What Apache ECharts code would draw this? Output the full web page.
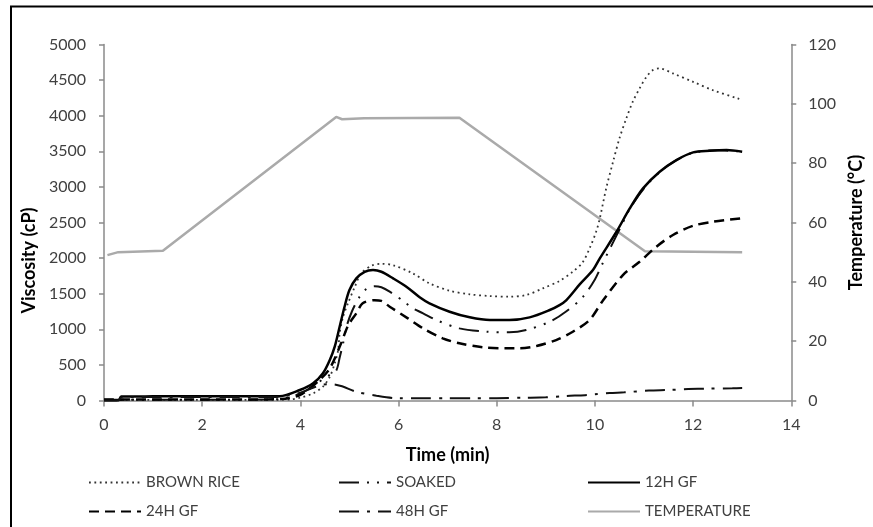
<!DOCTYPE html>
<html>
<head>
<meta charset="utf-8">
<script src="https://cdn.jsdelivr.net/npm/echarts@6/dist/echarts.min.js"></script>
<style>html,body{margin:0;padding:0;background:#fff}#c{width:873px;height:527px}</style>
</head>
<body>
<div id="c"></div>
<script>
// Time (min) vs viscosity (cP)
var brownRice = [[0,5],[0.5,8],[1,8],[2,8],[3,8],[3.5,10],[3.8,15],[4.0,40],[4.26,100],[4.46,195],[4.60,334],[4.70,522],[4.77,709],[4.80,943],[4.87,1176],[4.97,1365],[5.11,1598],[5.24,1786],[5.45,1893],[5.65,1920],[5.89,1900],[6.29,1786],[6.63,1645],[7.04,1542],[7.45,1491],[7.86,1467],[8.26,1458],[8.60,1481],[8.94,1575],[9.28,1680],[9.55,1809],[9.75,1940],[9.90,2150],[10.03,2380],[10.10,2558],[10.23,2979],[10.37,3353],[10.50,3681],[10.64,3962],[10.77,4195],[10.91,4383],[11.05,4546],[11.18,4640],[11.32,4664],[11.59,4594],[12.0,4476],[12.40,4359],[12.91,4243],[13,4225]];
var soaked = [[0,10],[1,12],[2,12],[3,12],[3.6,20],[4.0,100],[4.26,200],[4.46,300],[4.60,360],[4.73,420],[4.80,600],[4.87,803],[4.94,1036],[5.05,1250],[5.2,1450],[5.35,1570],[5.51,1605],[5.65,1590],[5.82,1528],[6.16,1365],[6.23,1317],[6.50,1224],[6.77,1130],[7.24,1013],[7.79,966],[8.26,957],[8.60,990],[9.08,1106],[9.42,1254],[9.76,1458],[10.0,1700],[10.16,1930],[10.5,2400],[10.71,2690],[11.0,2980],[11.32,3210],[11.66,3375],[12.0,3480],[12.5,3515],[13,3495]];
var gf12h = [[0,0],[0.3,5],[0.35,55],[1,58],[2,60],[3,58],[3.58,60],[3.99,147],[4.26,241],[4.46,382],[4.60,569],[4.70,756],[4.80,1036],[4.90,1317],[5.00,1551],[5.14,1715],[5.31,1808],[5.48,1832],[5.65,1808],[5.89,1715],[6.16,1598],[6.43,1450],[6.63,1365],[7.04,1247],[7.45,1168],[7.86,1130],[8.26,1130],[8.67,1168],[9.08,1271],[9.28,1340],[9.42,1411],[9.69,1630],[9.96,1832],[10.10,1996],[10.44,2370],[10.71,2698],[10.98,2979],[11.32,3213],[11.66,3377],[12.0,3485],[12.34,3507],[12.68,3517],[13,3495]];
var gf24h = [[0,15],[1,15],[2,15],[3,15],[3.6,20],[4.0,80],[4.39,288],[4.6,450],[4.83,803],[4.97,1050],[5.14,1224],[5.27,1365],[5.51,1408],[5.65,1400],[5.82,1317],[6.19,1154],[6.50,1013],[6.90,873],[7.24,803],[7.72,747],[8.19,733],[8.47,733],[8.81,765],[9.21,849],[9.55,966],[9.89,1130],[10.16,1400],[10.57,1762],[10.91,1949],[11.25,2159],[11.59,2324],[12.0,2454],[12.40,2510],[12.98,2558]];
var gf48h = [[0,0],[0.3,5],[0.35,45],[1,48],[2,50],[3,48],[3.5,50],[4.0,110],[4.3,190],[4.46,225],[4.66,228],[4.85,200],[5.14,123],[5.55,67],[6.0,31],[6.5,30],[7,30],[7.5,32],[8,33],[8.6,39],[9.0,45],[9.4,63],[9.8,75],[10.0,87],[10.3,105],[10.6,115],[11.1,140],[11.5,148],[11.9,160],[12.3,166],[12.8,172],[13,175]];
// Time (min) vs temperature (°C)
var temperature = [[0.07,49],[0.29,50],[1.2,50.5],[4.73,95.6],[4.85,94.8],[5.3,95.1],[7.24,95.3],[11.02,50.3],[13,50]];

var seriesNames = ['BROWN RICE','SOAKED','12H GF','24H GF','48H GF','TEMPERATURE'];
var xAxisTitle = 'Time (min)';
var yAxisTitle = 'Viscosity (cP)';
var y2AxisTitle = 'Temperature (°C)';

var FONT = 'Lato';
var axisLineColor = '#8a8a8a';

function legendAt(name, left, top) {
  return {
    data: [name], left: left, top: top, padding: 0,
    itemWidth: 52, itemHeight: 14,
    itemStyle: {opacity: 0},
    textStyle: {fontFamily: FONT, fontSize: 15, color: '#404040'},
    selectedMode: false
  };
}
function plain(v) { return String(v); }
var titleStyle = {fontFamily: FONT, fontSize: 18, fontWeight: 'bold', color: '#000'};
var tickLabel = {fontFamily: FONT, fontSize: 16, color: '#404040', formatter: plain};

var chart = echarts.init(document.getElementById('c'), null, {renderer: 'canvas'});
chart.setOption({
  animation: false,
  backgroundColor: '#fff',
  textStyle: {fontFamily: FONT},
  grid: {left: 104, top: 44.5, width: 688, height: 356},
  legend: [
    legendAt(seriesNames[0], 88, 475),
    legendAt(seriesNames[1], 338, 475),
    legendAt(seriesNames[2], 587, 475),
    legendAt(seriesNames[3], 88, 504),
    legendAt(seriesNames[4], 338, 504),
    legendAt(seriesNames[5], 587, 504)
  ],
  xAxis: {
    type: 'value', min: 0, max: 14, interval: 2,
    name: xAxisTitle, nameLocation: 'middle', nameGap: 46,
    nameTextStyle: titleStyle,
    axisLine: {lineStyle: {color: axisLineColor, width: 1.5}},
    axisTick: {show: true, length: 6, lineStyle: {color: axisLineColor, width: 1.5}},
    axisLabel: Object.assign({margin: 16}, tickLabel),
    splitLine: {show: false}
  },
  yAxis: [{
    type: 'value', min: 0, max: 5000, interval: 500,
    name: yAxisTitle, nameLocation: 'middle', nameGap: 61, nameRotate: 90,
    nameTextStyle: Object.assign({padding: [0, 76, 0, 0]}, titleStyle),
    axisLine: {show: true, lineStyle: {color: axisLineColor, width: 1.5}},
    axisTick: {show: true, length: 5, lineStyle: {color: axisLineColor, width: 1.5}},
    axisLabel: Object.assign({margin: 18}, tickLabel),
    splitLine: {show: false}
  }, {
    type: 'value', min: 0, max: 120, interval: 20, position: 'right',
    name: y2AxisTitle, nameLocation: 'middle', nameGap: 49, nameRotate: 90,
    nameTextStyle: titleStyle,
    axisLine: {show: true, lineStyle: {color: axisLineColor, width: 1.5}},
    axisTick: {show: true, length: 5, lineStyle: {color: axisLineColor, width: 1.5}},
    axisLabel: Object.assign({margin: 17}, tickLabel),
    splitLine: {show: false}
  }],
  series: [
    {name: seriesNames[5], type: 'line', yAxisIndex: 1, data: temperature, symbol: 'none',
     lineStyle: {color: '#aaaaaa', width: 2.5, type: 'solid'}, itemStyle: {color: '#aaaaaa'}},
    {name: seriesNames[0], type: 'line', data: brownRice, symbol: 'none', smooth: 0.3,
     lineStyle: {color: '#333', width: 1.8, type: [1.8, 3.6]}, itemStyle: {color: '#333'}},
    {name: seriesNames[1], type: 'line', data: soaked, symbol: 'none', smooth: 0.3,
     lineStyle: {color: '#111', width: 2, type: [20, 8, 2, 8, 2, 8]}, itemStyle: {color: '#111'}},
    {name: seriesNames[2], type: 'line', data: gf12h, symbol: 'none', smooth: 0.3,
     lineStyle: {color: '#000', width: 2.5, type: 'solid'}, itemStyle: {color: '#000'}},
    {name: seriesNames[3], type: 'line', data: gf24h, symbol: 'none', smooth: 0.3,
     lineStyle: {color: '#000', width: 2.5, type: [10, 6]}, itemStyle: {color: '#000'}},
    {name: seriesNames[4], type: 'line', data: gf48h, symbol: 'none', smooth: 0.3,
     lineStyle: {color: '#111', width: 2, type: [20, 8, 3, 8]}, itemStyle: {color: '#111'}}
  ],
  graphic: [
    {type: 'line', shape: {x1: 10, y1: 6.5, x2: 873, y2: 6.5}, style: {stroke: '#000', lineWidth: 2}, silent: true},
    {type: 'line', shape: {x1: 11, y1: 6, x2: 11, y2: 527}, style: {stroke: '#000', lineWidth: 2}, silent: true}
  ]
});
</script>
</body>
</html>
